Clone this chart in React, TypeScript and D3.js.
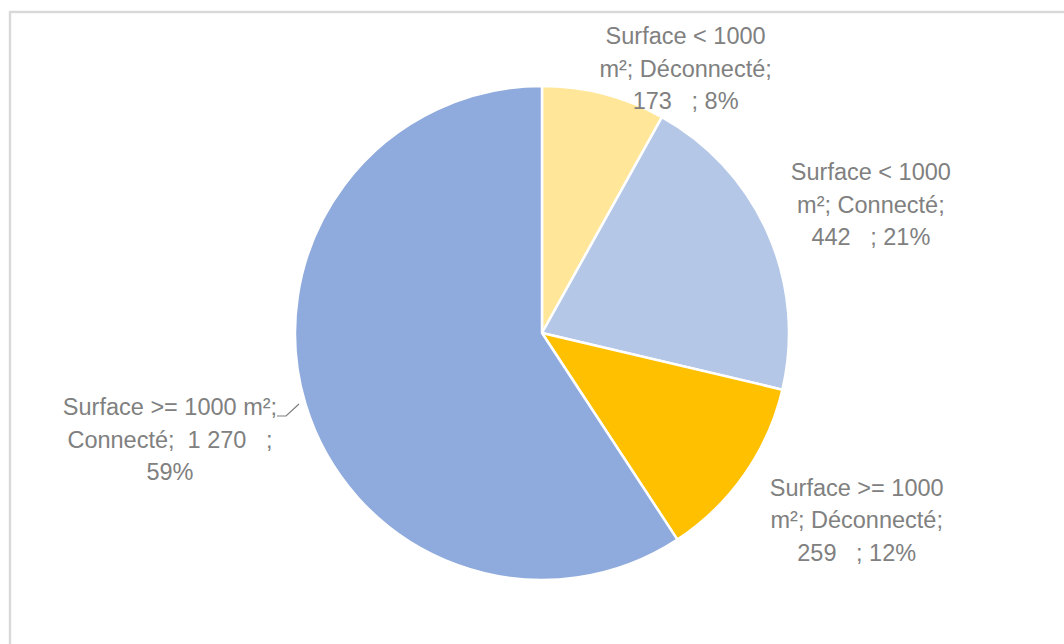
import React from "react";
import * as d3 from "d3";

const categories = [
  ["Surface < 1000", "m²; Déconnecté;", "173   ; 8%"],
  ["Surface < 1000", "m²; Connecté;", "442   ; 21%"],
  ["Surface >= 1000", "m²; Déconnecté;", "259   ; 12%"],
  ["Surface >= 1000 m²;", "Connecté;  1 270   ;", "59%"],
];
const values = [173, 442, 259, 1270];
const colors = ["#FFE699", "#B4C7E7", "#FFC000", "#8FAADC"];
// label placement (angle in degrees clockwise from top, distance from centre)
const labelAngles = [28.5, 68.7, 120.7, 254];
const labelDists = [301, 353, 366, 387];

const W = 1064;
const H = 644;
const cx = 542;
const cy = 333;
const R = 247;

export default function App() {
  const pie = d3.pie<number>().sort(null).value((d) => d)(values);
  const arc = d3.arc<d3.PieArcDatum<number>>().innerRadius(0).outerRadius(R);
  const lineH = 32.5;
  return (
    <svg
      width={W}
      height={H}
      style={{ position: "absolute", left: 0, top: 0, background: "#fff" }}
      fontFamily="Liberation Sans, Arial, sans-serif"
    >
      <rect x={10} y={12} width={W + 20} height={H + 20} fill="#fff" stroke="#d9d9d9" strokeWidth={2.4} />
      <g transform={`translate(${cx},${cy})`}>
        {pie.map((p, i) => (
          <path key={i} d={arc(p) || ""} fill={colors[i]} stroke="#fff" strokeWidth={2.5} strokeLinejoin="round" />
        ))}
      </g>
      <polyline points="277,416 286,416 299,404" fill="none" stroke="#7f7f7f" strokeWidth={1.2} />
      {categories.map((lines, i) => {
        const a = (labelAngles[i] * Math.PI) / 180;
        const x = cx + Math.sin(a) * labelDists[i];
        const y = cy - Math.cos(a) * labelDists[i];
        return (
          <text key={i} x={x} y={y} textAnchor="middle" fill="#808080" fontSize={23.5}>
            {lines.map((l, j) => (
              <tspan key={j} x={x} y={y + (j - 1) * lineH} dy="0.35em" xmlSpace="preserve" style={{ whiteSpace: "pre" }}>
                {l}
              </tspan>
            ))}
          </text>
        );
      })}
    </svg>
  );
}
